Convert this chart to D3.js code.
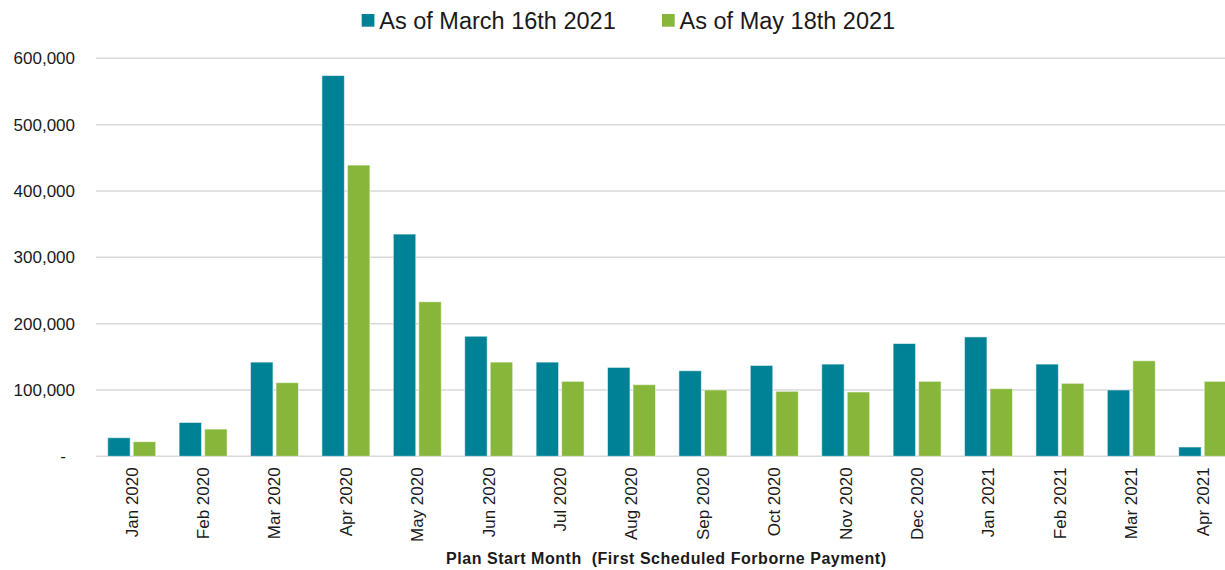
<!DOCTYPE html>
<html>
<head>
<meta charset="utf-8">
<script src="https://cdn.jsdelivr.net/npm/d3@7"></script>
<style>
  html, body { margin: 0; padding: 0; background: #ffffff; }
  svg { display: block; font-family: Arial, "Liberation Sans", sans-serif; }
</style>
</head>
<body>
<svg id="chart" width="1225" height="570"></svg>
<script>
// Plan start months (first scheduled forborne payment)
const categories = [
  "Jan 2020", "Feb 2020", "Mar 2020", "Apr 2020", "May 2020", "Jun 2020",
  "Jul 2020", "Aug 2020", "Sep 2020", "Oct 2020", "Nov 2020", "Dec 2020",
  "Jan 2021", "Feb 2021", "Mar 2021", "Apr 2021"
];

const seriesNames = ["As of March 16th 2021", "As of May 18th 2021"];

const march16 = [
  28000, 51000, 142000, 574000, 335000, 181000, 142000, 134000,
  129000, 137000, 139000, 170000, 180000, 139000, 100000, 14000
];

const may18 = [
  22000, 41000, 111000, 439000, 233000, 142000, 113000, 108000,
  100000, 98000, 97000, 113000, 102000, 110000, 144000, 113000
];

const yTicks = [0, 100000, 200000, 300000, 400000, 500000, 600000];

const colors = ["#008296", "#86B73A"];

const svg = d3.select("#chart");

const plot = { left: 96, top: 58.3, bottom: 456.3, step: 71.4 };

const x0 = d3.scaleBand()
  .domain(categories)
  .range([plot.left, plot.left + categories.length * plot.step])
  .paddingInner(0.328)
  .paddingOuter(0.164);

const x1 = d3.scaleBand()
  .domain(seriesNames)
  .range([0, x0.bandwidth()])
  .paddingInner(0.12);

const y = d3.scaleLinear()
  .domain([0, 600000])
  .range([plot.bottom, plot.top]);

// Horizontal gridlines
svg.append("g")
  .selectAll("line")
  .data(yTicks)
  .join("line")
  .attr("x1", plot.left)
  .attr("x2", 1225)
  .attr("y1", d => y(d))
  .attr("y2", d => y(d))
  .attr("stroke", "#d9d9d9")
  .attr("stroke-width", 1.5);

// Y axis labels
const yFmt = d => d === 0 ? "-" : d3.format(",")(d);
const yAxis = d3.axisLeft(y).tickValues(yTicks).tickFormat(yFmt).tickSize(0).tickPadding(0);
const yg = svg.append("g")
  .attr("transform", "translate(75,0)")
  .call(yAxis);
yg.select(".domain").remove();
yg.selectAll("text")
  .attr("font-size", "17px")
  .attr("fill", "#1a1a1a")
  .attr("font-family", "Arial, 'Liberation Sans', sans-serif");
yg.selectAll(".tick").filter(d => d === 0).select("text").attr("dx", "-9px");

// Bars
const rows = categories.map((c, i) => ({ cat: c, vals: [march16[i], may18[i]] }));
const groups = svg.append("g")
  .selectAll("g")
  .data(rows)
  .join("g")
  .attr("transform", d => `translate(${x0(d.cat)},0)`);

groups.selectAll("rect")
  .data(d => d.vals.map((v, j) => ({ name: seriesNames[j], value: v, j })))
  .join("rect")
  .attr("x", d => x1(d.name))
  .attr("width", x1.bandwidth())
  .attr("y", d => y(d.value))
  .attr("height", d => y(0) - y(d.value))
  .attr("fill", d => colors[d.j])
  .attr("stroke", "#ffffff")
  .attr("stroke-opacity", 0.55)
  .attr("stroke-width", 1);

// X axis labels (rotated)
const xAxis = d3.axisBottom(x0).tickSize(0).tickPadding(0);
const xg = svg.append("g")
  .attr("transform", `translate(0,${plot.bottom})`)
  .call(xAxis);
xg.select(".domain").remove();
xg.selectAll("text")
  .attr("font-size", "17px")
  .attr("fill", "#1a1a1a")
  .attr("font-family", "Arial, 'Liberation Sans', sans-serif")
  .attr("text-anchor", "end")
  .attr("transform", "translate(0,11) rotate(-90)")
  .attr("x", 0)
  .attr("y", 0)
  .attr("dy", "0.35em");

// X axis title
svg.append("text")
  .attr("x", 666)
  .attr("y", 564)
  .attr("text-anchor", "middle")
  .attr("font-size", "16px")
  .attr("font-weight", "bold")
  .attr("fill", "#1a1a1a")
  .attr("textLength", 440)
  .attr("lengthAdjust", "spacing")
  .style("white-space", "pre")
  .text("Plan Start Month  (First Scheduled Forborne Payment)");

// Legend
const legend = svg.append("g");
const legendItems = [
  { name: seriesNames[0], color: colors[0], x: 361.7 },
  { name: seriesNames[1], color: colors[1], x: 662 }
];
const li = legend.selectAll("g")
  .data(legendItems)
  .join("g")
  .attr("transform", d => `translate(${d.x},0)`);
li.append("rect")
  .attr("x", 0)
  .attr("y", 14)
  .attr("width", 12.7)
  .attr("height", 12.7)
  .attr("fill", d => d.color);
li.append("text")
  .attr("x", 17.6)
  .attr("y", 29.3)
  .attr("font-size", "23.5px")
  .attr("fill", "#1a1a1a")
  .text(d => d.name);
</script>
</body>
</html>
